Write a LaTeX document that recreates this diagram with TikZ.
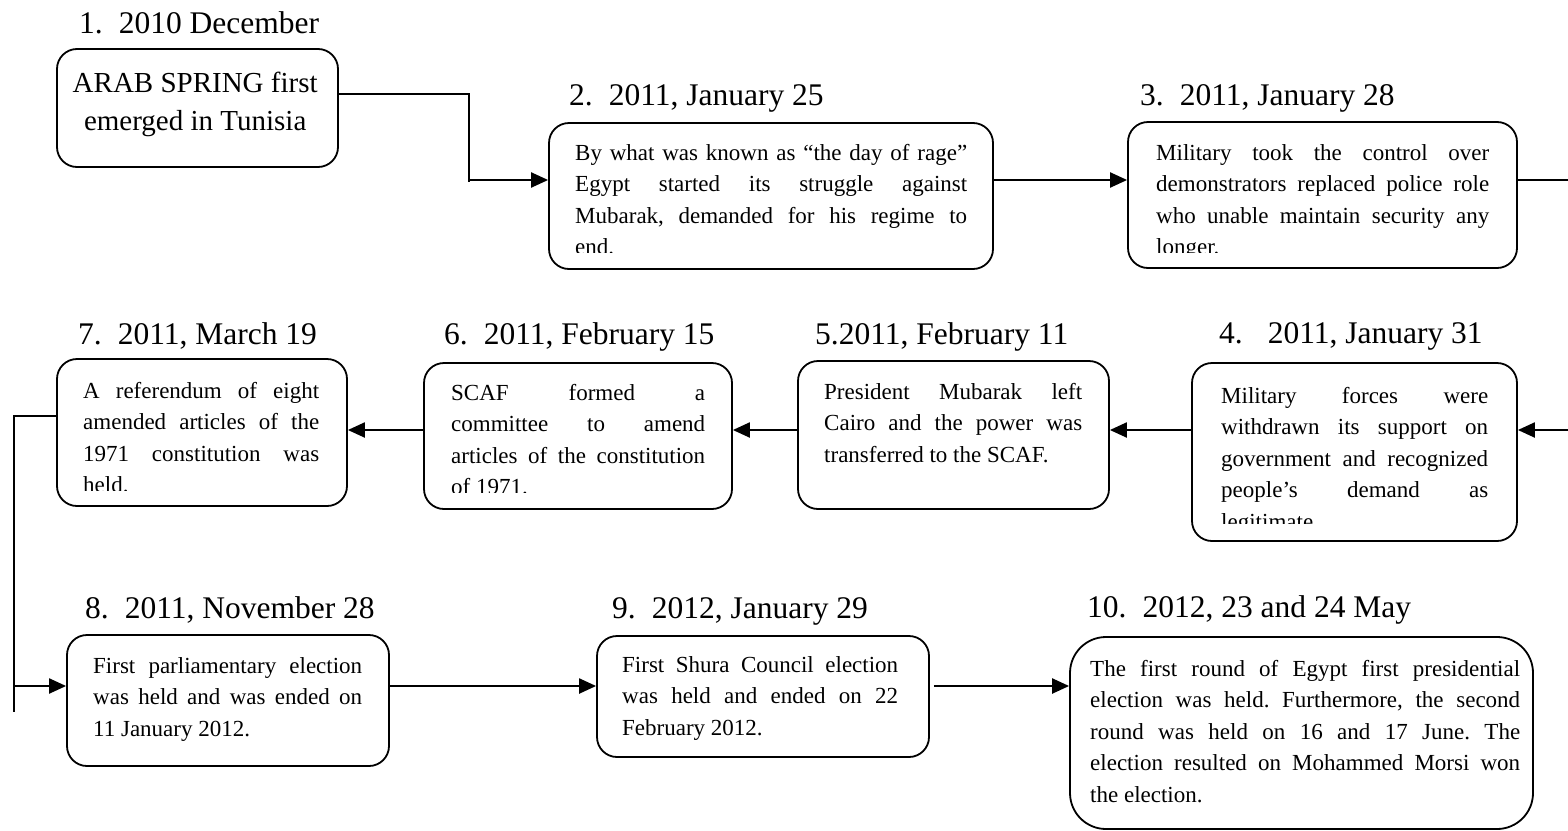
\documentclass[tikz,border=0pt]{standalone}
\usepackage{fontspec}
\setmainfont{Liberation Serif}
\usetikzlibrary{arrows.meta}
\frenchspacing
\newcommand\myjust[1]{\hbox to \hsize{#1}}
\newcommand\myleft[1]{\hbox to \hsize{#1\hfil}}
\newcommand\mycent[1]{\hbox to \hsize{\hfil#1\hfil}}
\begin{document}
\begin{tikzpicture}[x=1pt,y=-1pt,
  evbox/.style={draw, line width=1.8pt, rounded corners=20pt, rectangle, inner sep=0pt},
  datelbl/.style={anchor=base west, inner sep=0pt, font=\fontsize{31.5}{36}\selectfont},
  txt/.style={anchor=base west, inner sep=0pt, font=\fontsize{23}{31.6}\selectfont},
  arr/.style={line width=2.2pt, -{Triangle[length=17pt,width=15pt]}},
  elbow/.style={line width=1.5pt}]
\useasboundingbox (0,0) rectangle (1568,830);

% boxes
\node[evbox, minimum width=281pt, minimum height=118pt] (b1) at (197.5,108) {};
\node[evbox, minimum width=444pt, minimum height=146pt] (b2) at (771,196) {};
\node[evbox, minimum width=389pt, minimum height=146pt] (b3) at (1322.5,195) {};
\node[evbox, minimum width=325pt, minimum height=178pt] (b4) at (1354.5,452) {};
\node[evbox, minimum width=311pt, minimum height=148pt] (b5) at (953.5,435) {};
\node[evbox, minimum width=308pt, minimum height=146pt] (b6) at (578,436) {};
\node[evbox, minimum width=290pt, minimum height=147pt] (b7) at (202,432.5) {};
\node[evbox, minimum width=322pt, minimum height=131pt] (b8) at (228,700.5) {};
\node[evbox, minimum width=332pt, minimum height=121pt] (b9) at (763,696.5) {};
\node[evbox, rounded corners=36pt, minimum width=463pt, minimum height=192pt] (b10) at (1301.5,733) {};

% date labels
\node[datelbl] (d1) at (79,33) {1.\hspace{16pt}2010 December};
\node[datelbl] (d2) at (569,105) {2.\hspace{16pt}2011, January 25};
\node[datelbl] (d3) at (1140,105) {3.\hspace{16pt}2011, January 28};
\node[datelbl] (d4) at (1219,343) {4.\hspace{25pt}2011, January 31};
\node[datelbl] (d5) at (815,344) {5.2011, February 11};
\node[datelbl] (d6) at (444,344) {6.\hspace{16pt}2011, February 15};
\node[datelbl] (d7) at (78,344) {7.\hspace{16pt}2011, March 19};
\node[datelbl] (d8) at (85,618) {8.\hspace{16pt}2011, November 28};
\node[datelbl] (d9) at (612,618) {9.\hspace{16pt}2012, January 29};
\node[datelbl] (d10) at (1087,617) {10.\hspace{16pt}2012, 23 and 24 May};

% box texts
\node[anchor=base west, inner sep=0pt, font=\fontsize{29}{38}\selectfont] (t1) at (55,92)
  {\vtop{\hsize=280pt \mycent{ARAB SPRING first}\mycent{emerged in Tunisia}}};
\begin{scope}
\clip (549,110) rectangle (993,252);
\node[txt] (t2) at (575,160) {\vtop{\hsize=392pt \myjust{By what was known as “the day of rage”}\myjust{Egypt started its struggle against}\myjust{Mubarak, demanded for his regime to}\myleft{end.}}};
\end{scope}
\begin{scope}
\clip (1128,110) rectangle (1517,252);
\node[txt] (t3) at (1156,160) {\vtop{\hsize=333pt \myjust{Military took the control over}\myjust{demonstrators replaced police role}\myjust{who unable maintain security any}\myleft{longer.}}};
\end{scope}
\begin{scope}
\clip (1192,370) rectangle (1517,523);
\node[txt] (t4) at (1221,403) {\vtop{\hsize=267pt \myjust{Military forces were}\myjust{withdrawn its support on}\myjust{government and recognized}\myjust{people’s demand as}\myleft{legitimate.}}};
\end{scope}
\node[txt] (t5) at (824,399) {\vtop{\hsize=258pt \myjust{President Mubarak left}\myjust{Cairo and the power was}\myleft{transferred to the SCAF.}}};
\begin{scope}
\clip (424,370) rectangle (732,492);
\node[txt] (t6) at (451,400) {\vtop{\hsize=254pt \myjust{SCAF formed a}\myjust{committee to amend}\myjust{articles of the constitution}\myleft{of 1971.}}};
\end{scope}
\begin{scope}
\clip (57,370) rectangle (347,490);
\node[txt] (t7) at (83,398) {\vtop{\hsize=236pt \myjust{A referendum of eight}\myjust{amended articles of the}\myjust{1971 constitution was}\myleft{held.}}};
\end{scope}
\node[txt] (t8) at (93,673) {\vtop{\hsize=269pt \myjust{First parliamentary election}\myjust{was held and was ended on}\myleft{11 January 2012.}}};
\node[txt] (t9) at (622,672) {\vtop{\hsize=276pt \myjust{First Shura Council election}\myjust{was held and ended on 22}\myleft{February 2012.}}};
\node[txt] (t10) at (1090,676) {\vtop{\hsize=430pt \myjust{The first round of Egypt first presidential}\myjust{election was held. Furthermore, the second}\myjust{round was held on 16 and 17 June. The}\myjust{election resulted on Mohammed Morsi won}\myleft{the election.}}};

% connector coordinates
\coordinate (k1) at (469,94);
\coordinate (k1b) at (469,182);
\coordinate (k2) at (469,180);
\coordinate (e1) at (1568,180);
\coordinate (e2) at (1568,430);
\coordinate (k7) at (14,416);
\coordinate (k7b) at (14,712);
\coordinate (k8) at (14,686);

% connectors
\draw[elbow] (b1.east |- k1) -- (k1) -- (k1b);
\draw[arr] (k2) -- (k2 -| b2.west);
\draw[arr] (b2.east |- k2) -- (b3.west |- k2);
\draw[line width=2.2pt] (b3.east |- e1) -- (e1);
\draw[arr] (e2) -- (b4.east |- e2);
\draw[arr] (b4.west |- e2) -- (b5.east |- e2);
\draw[arr] (b5.west |- e2) -- (b6.east |- e2);
\draw[arr] (b6.west |- e2) -- (b7.east |- e2);
\draw[elbow] (b7.west |- k7) -- (k7) -- (k7b);
\draw[arr] (k8) -- (k8 -| b8.west);
\draw[arr] (b8.east |- k8) -- (b9.west |- k8);
\draw[arr] ([xshift=4pt]b9.east |- k8) -- (b10.west |- k8);
\end{tikzpicture}
\end{document}
